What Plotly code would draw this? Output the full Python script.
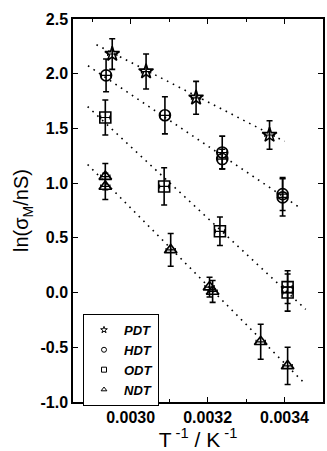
import plotly.graph_objects as go

# ---- data ----
pdt_x = [0.002952, 0.003040, 0.003170, 0.003361]
pdt_y = [2.18, 2.02, 1.78, 1.44]
pdt_err = [0.14, 0.16, 0.15, 0.13]

hdt_x = [0.002936, 0.003089, 0.003238, 0.003238, 0.003395, 0.003395]
hdt_y = [1.985, 1.62, 1.28, 1.22, 0.90, 0.87]
hdt_err = [0.15, 0.17, 0.15, 0.09, 0.15, 0.17]

odt_x = [0.002934, 0.003087, 0.003232, 0.003408, 0.003408]
odt_y = [1.60, 0.97, 0.56, 0.05, 0.00]
odt_err = [0.16, 0.17, 0.13, 0.15, 0.17]

ndt_x = [0.002934, 0.002934, 0.003104, 0.003205, 0.003213, 0.003338, 0.003408]
ndt_y = [1.06, 0.97, 0.39, 0.05, 0.01, -0.45, -0.67]
ndt_err = [0.12, 0.12, 0.15, 0.09, 0.10, 0.16, 0.17]

x_err = 0.000012

# fitted lines (endpoints)
fit_pdt_x = [0.002911, 0.003400]
fit_pdt_y = [2.265, 1.382]
fit_hdt_x = [0.002889, 0.003440]
fit_hdt_y = [2.073, 0.775]
fit_odt_x = [0.002888, 0.003455]
fit_odt_y = [1.70, -0.153]
fit_ndt_x = [0.002888, 0.003455]
fit_ndt_y = [1.17, -0.84]

names = ["PDT", "HDT", "ODT", "NDT"]
symbols = ["star-open", "circle-open", "square-open", "triangle-up-open"]

series = [
    (pdt_x, pdt_y, pdt_err, fit_pdt_x, fit_pdt_y),
    (hdt_x, hdt_y, hdt_err, fit_hdt_x, fit_hdt_y),
    (odt_x, odt_y, odt_err, fit_odt_x, fit_odt_y),
    (ndt_x, ndt_y, ndt_err, fit_ndt_x, fit_ndt_y),
]

fig = go.Figure()

for (xs, ys, errs, fx, fy), name, sym in zip(series, names, symbols):
    fig.add_trace(go.Scatter(
        x=fx, y=fy, mode="lines", showlegend=False,
        line=dict(color="black", width=1.6, dash="1.6px,5px"),
        hoverinfo="skip"))
    fig.add_trace(go.Scatter(
        x=xs, y=ys, mode="markers", showlegend=False, name=name,
        marker=dict(symbol=sym, size=11, color="black",
                    line=dict(color="black", width=1.6)),
        error_y=dict(type="data", array=errs, color="black",
                     thickness=1.6, width=3),
        error_x=dict(type="constant", value=x_err, color="black",
                     thickness=1.2, width=2)))

# legend-only traces with small markers
for name, sym in zip(names, symbols):
    fig.add_trace(go.Scatter(
        x=[None], y=[None], mode="markers", name=name,
        marker=dict(symbol=sym, size=5, color="black",
                    line=dict(color="black", width=1))))

font_family = "Liberation Sans, Arial, sans-serif"

fig.update_layout(
    width=327, height=451,
    margin=dict(l=73, r=2, t=19, b=49),
    paper_bgcolor="white", plot_bgcolor="white",
    font=dict(family=font_family, color="black"),
    showlegend=True,
    legend=dict(
        x=0.04, y=0.23, xanchor="left", yanchor="top",
        bgcolor="white", bordercolor="black", borderwidth=1,
        font=dict(size=13, family=font_family, style="italic", weight="bold"),
        tracegroupgap=0, itemwidth=30,
    ),
    xaxis=dict(
        range=[0.00285, 0.0035],
        tickmode="array",
        tickvals=[0.0030, 0.0032, 0.0034],
        ticktext=["0.0030", "0.0032", "0.0034"],
        ticks="inside", ticklen=5, tickwidth=1.2, tickcolor="black",
        minor=dict(tickmode="array", tickvals=[0.0029, 0.0031, 0.0033, 0.0035],
                   ticks="inside", ticklen=3, tickwidth=1.2, tickcolor="black"),
        showline=True, linecolor="black", linewidth=1.5, mirror="ticks",
        showgrid=False, zeroline=False,
        tickfont=dict(size=16, weight="bold"),
        title=dict(text="T<sup> -1</sup> / K<sup> -1</sup>", font=dict(size=21), standoff=4),
    ),
    yaxis=dict(
        range=[-1.0, 2.5],
        tickmode="array",
        tickvals=[-1.0, -0.5, 0.0, 0.5, 1.0, 1.5, 2.0, 2.5],
        ticktext=["-1.0", "-0.5", "0.0", "0.5", "1.0", "1.5", "2.0", "2.5"],
        ticks="inside", ticklen=5, tickwidth=1.2, tickcolor="black",
        showline=True, linecolor="black", linewidth=1.5, mirror="ticks",
        showgrid=False, zeroline=False,
        tickfont=dict(size=16, weight="bold"),
        title=dict(text="ln(σ<sub>M</sub>/nS)", font=dict(size=20), standoff=6),
    ),
)

fig.write_html("out.html")
